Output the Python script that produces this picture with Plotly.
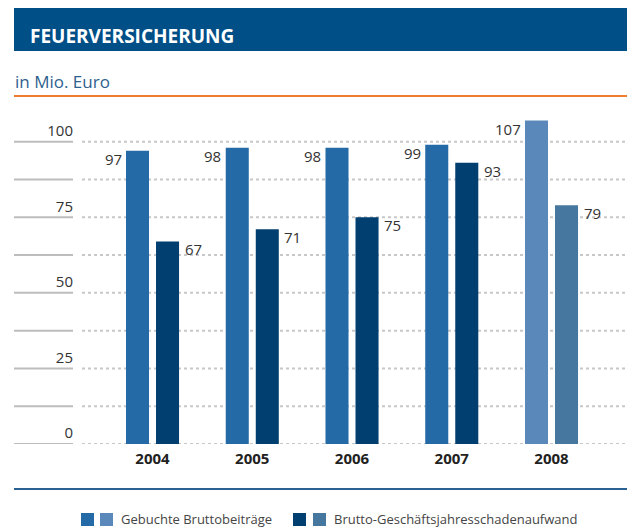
import plotly.graph_objects as go

# ---- data ----
years = ["2004", "2005", "2006", "2007", "2008"]
beitraege = [97, 98, 98, 99, 107]
schaden = [67, 71, 75, 93, 79]
ytick_vals = [0, 25, 50, 75, 100]
grid_vals = [0, 12.5, 25, 37.5, 50, 62.5, 75, 87.5, 100]
series_names = ["Gebuchte Bruttobeiträge", "Brutto-Geschäftsjahresschadenaufwand"]
title_text = "FEUERVERSICHERUNG"
subtitle_text = "in Mio. Euro"

# ---- styles ----
c_b = ["#246aa6"] * 4 + ["#5b88ba"]
c_s = ["#003f6f"] * 4 + ["#46789f"]
FONT = "Open Sans"

OFF = 8  # page body margin
W, H = 635 - OFF, 528 - OFF
# plot area in window pixels: x 82..635, y 110..444
L, R, T, B = 82 - OFF, 0, 110 - OFF, H - (444 - OFF)
pw, ph = W - L - R, H - T - B


def px(x):
    return (x - OFF - L) / pw


def py(y):
    return (H - B - (y - OFF)) / ph


fig = go.Figure()
fig.add_trace(go.Bar(x=years, y=beitraege, name=series_names[0],
                     marker=dict(color=c_b, line=dict(width=0)), showlegend=False))
fig.add_trace(go.Bar(x=years, y=schaden, name=series_names[1],
                     marker=dict(color=c_s, line=dict(width=0)), showlegend=False))

shapes = []
for g in grid_vals:
    shapes.append(dict(type="line", xref="paper", yref="y", x0=px(14), x1=px(73), y0=g, y1=g,
                       line=dict(color="#bdbdbd", width=2), layer="below"))
    shapes.append(dict(type="line", xref="paper", yref="y", x0=px(82), x1=px(635), y0=g, y1=g,
                       line=dict(color="#c8c8c8", width=2, dash="3px,3px"), layer="below"))

# header band
shapes.append(dict(type="rect", xref="paper", yref="paper", x0=px(14), x1=px(635),
                   y0=py(51), y1=py(5), fillcolor="#004f87", line=dict(width=0)))
# orange rule
shapes.append(dict(type="line", xref="paper", yref="paper", x0=px(14), x1=px(635),
                   y0=py(96), y1=py(96), line=dict(color="#ef7d31", width=2)))
# bottom blue rule
shapes.append(dict(type="line", xref="paper", yref="paper", x0=px(14), x1=px(635),
                   y0=py(489), y1=py(489), line=dict(color="#2a6192", width=2)))
# legend squares
for (x0, col) in [(81, c_b[0]), (100, c_b[4]), (293, c_s[0]), (313, c_s[4])]:
    shapes.append(dict(type="rect", xref="paper", yref="paper", x0=px(x0), x1=px(x0 + 13),
                       y0=py(526), y1=py(513), fillcolor=col, line=dict(width=0)))

annotations = [
    dict(text=title_text, xref="paper", yref="paper", x=px(28), y=py(36), xanchor="left",
         yanchor="middle", showarrow=False,
         font=dict(family=FONT, size=19, color="white", weight=700)),
    dict(text=subtitle_text, xref="paper", yref="paper", x=px(13), y=py(81), xanchor="left",
         yanchor="middle", showarrow=False, font=dict(family=FONT, size=17, color="#2f5f8e")),
    dict(text=series_names[0], xref="paper", yref="paper", x=px(119), y=py(519), xanchor="left",
         yanchor="middle", showarrow=False, font=dict(family=FONT, size=13, color="#444444")),
    dict(text=series_names[1], xref="paper", yref="paper", x=px(332), y=py(519), xanchor="left",
         yanchor="middle", showarrow=False, font=dict(family=FONT, size=13, color="#444444")),
]
for i, v in enumerate(beitraege):
    annotations.append(dict(text=str(v), x=i, y=v, xref="x", yref="y", xanchor="right",
                            yanchor="middle", xshift=-29, yshift=-8, showarrow=False,
                            font=dict(family=FONT, size=15, color="#333333")))
for i, v in enumerate(schaden):
    annotations.append(dict(text=str(v), x=i, y=v, xref="x", yref="y", xanchor="left",
                            yanchor="middle", xshift=30, yshift=-8, showarrow=False,
                            font=dict(family=FONT, size=15, color="#333333")))

fig.update_layout(
    width=W, height=H,
    margin=dict(l=L, r=R, t=T, b=B),
    paper_bgcolor="white", plot_bgcolor="white",
    barmode="group", bargap=0.398, bargroupgap=0.233,
    shapes=shapes, annotations=annotations,
    showlegend=False,
    font=dict(family=FONT),
    xaxis=dict(type="category", range=[-0.707, 4.837], showgrid=False, zeroline=False,
               showline=False, ticks="", ticklabelstandoff=4,
               tickfont=dict(family=FONT, size=15, color="#222222", weight=700)),
    yaxis=dict(range=[0, 110.49], tickvals=ytick_vals, showgrid=False, zeroline=False,
               showline=False, ticks="", ticklabelshift=-11, ticklabelstandoff=8,
               tickfont=dict(family=FONT, size=15, color="#333333")),
)

fig.write_html("out.html")
